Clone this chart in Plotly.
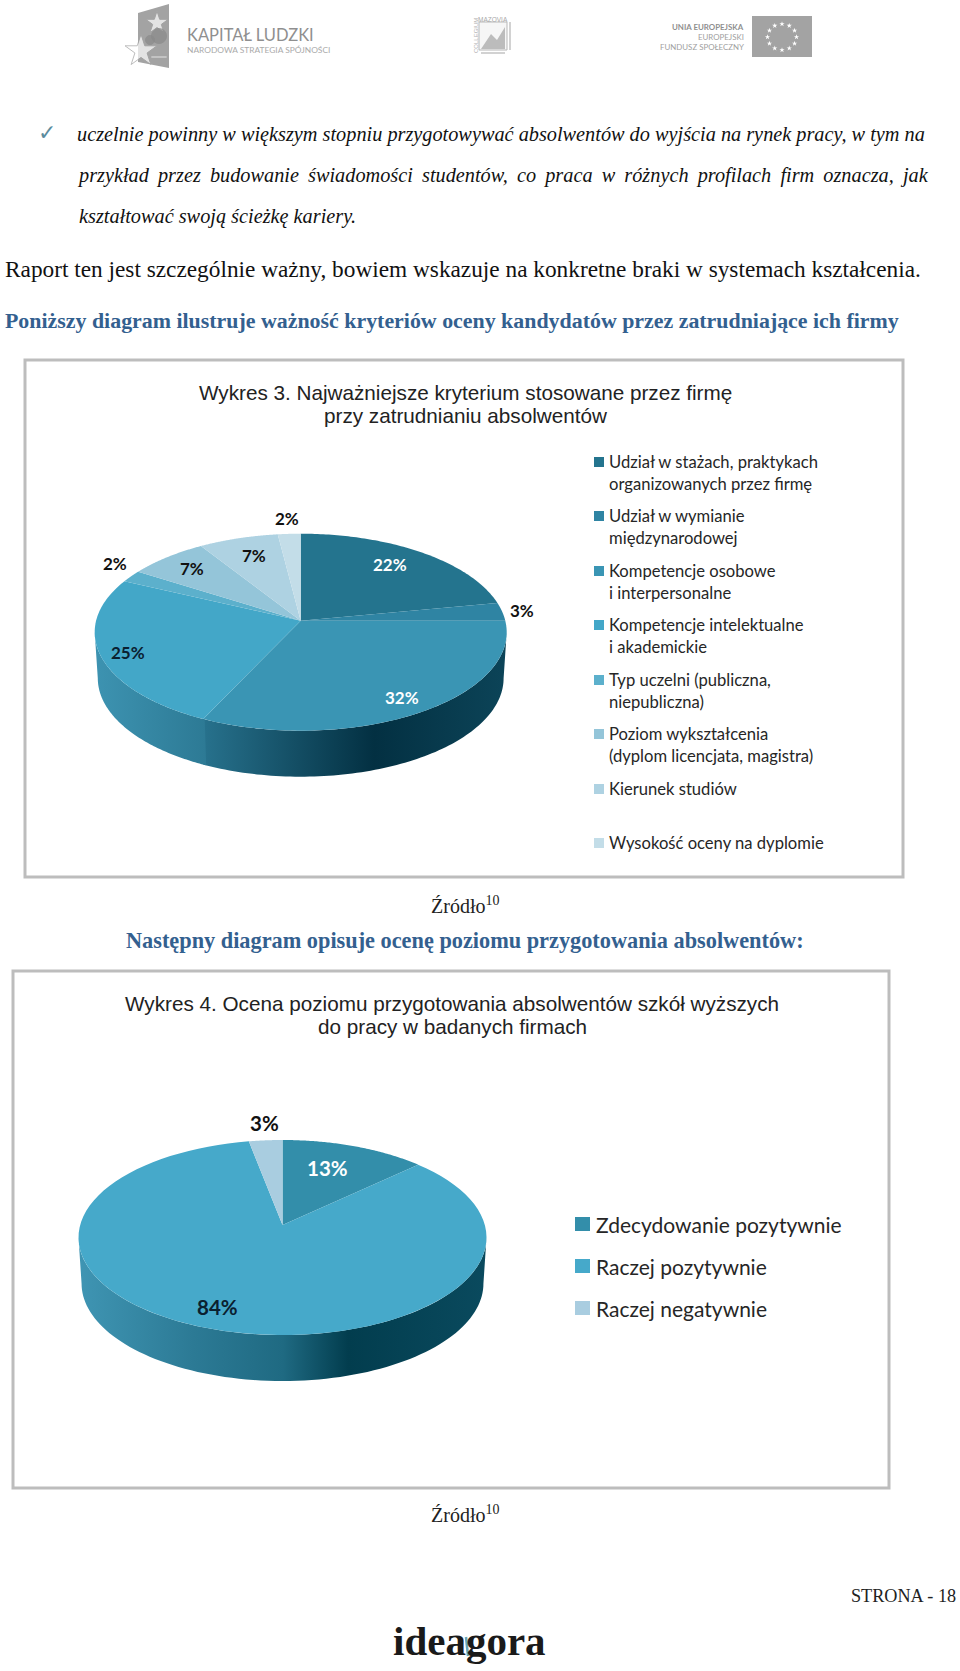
import math
import plotly.graph_objects as go

# ---- data ----
title_1 = ["Wykres 3. Najważniejsze kryterium stosowane przez firmę", "przy zatrudnianiu absolwentów"]
categories_1 = ["Udział w stażach, praktykach<br>organizowanych przez firmę",
                "Udział w wymianie<br>międzynarodowej",
                "Kompetencje osobowe<br>i interpersonalne",
                "Kompetencje intelektualne<br>i akademickie",
                "Typ uczelni (publiczna,<br>niepubliczna)",
                "Poziom wykształcenia<br>(dyplom licencjata, magistra)",
                "Kierunek studiów",
                "Wysokość oceny na dyplomie"]
values_1 = [22, 3, 32, 25, 2, 7, 7, 2]
colors_1 = ["#24748e", "#2f84a3", "#3a95b4", "#43a7c8", "#5cb0cc", "#94c5d9", "#aed2e2", "#c3dde8"]

title_2 = ["Wykres 4. Ocena poziomu przygotowania absolwentów szkół wyższych", "do pracy w badanych firmach"]
categories_2 = ["Zdecydowanie pozytywnie", "Raczej pozytywnie", "Raczej negatywnie"]
values_2 = [13, 84, 3]
colors_2 = ["#338eaa", "#46a9ca", "#a9cde0"]

SERIF = "Liberation Serif"
SANS = "Liberation Sans"
CAL = "Lato"
BLUE = "#33608f"
G = "#8f8f8f"

fig = go.Figure()
shapes, ann = [], []


def text(t, x, y, size, color="#111111", family=SERIF, anchor="left"):
    ann.append(dict(text=t, x=x, y=y, xref="x", yref="y", showarrow=False, xanchor=anchor, yanchor="middle",
                    borderpad=0, font=dict(size=size, color=color, family=family), align="left"))


def poly(xs, ys, color=None, gradient=None):
    kw = dict(fillgradient=gradient) if gradient else dict(fillcolor=color)
    fig.add_trace(go.Scatter(x=xs, y=ys, mode="none", fill="toself", hoverinfo="skip", showlegend=False, **kw))


def pie(values, colors, cx, cy, above, below, halfw, depth, side_styles):
    k = (below - above) / (below + above)
    A = above * (1 + k)
    B = halfw * math.sqrt(1 - k * k)
    tangent = math.degrees(math.acos(-k))

    def pt(deg, scale=1.0, dy=0.0):
        t = math.radians(deg)
        u, v = math.sin(t), math.cos(t)
        d = 1 + k * v
        return cx + scale * B * u / d, cy - A * v / d + dy

    total = sum(values)
    edges = [0]
    for val in values:
        edges.append(edges[-1] + val / total * 360)

    def arc(a, b, n=90):
        return [a + (b - a) * i / n for i in range(n + 1)]

    # side walls of the visible slices, clipped to the silhouette of the disc
    for i, grad in side_styles.items():
        a = max(edges[i] - 0.4, tangent)
        b = min(edges[i + 1] + 0.4, 360 - tangent)
        top = [pt(d) for d in arc(a, b)]
        bot = [pt(d, 0.985, depth) for d in arc(b, a)]
        pts = top + bot
        poly([p[0] for p in pts], [p[1] for p in pts],
             gradient=dict(type="horizontal", start=grad[0], stop=grad[1], colorscale=grad[2]))
    # top faces
    for i, c in enumerate(colors):
        pts = [(cx, cy)] + [pt(d) for d in arc(edges[i], edges[i + 1])] + [(cx, cy)]
        poly([p[0] for p in pts], [p[1] for p in pts], color=c)


# frames
for x0, y0, x1, y1 in [(25, 360, 903, 877), (13, 971, 889, 1488)]:
    shapes.append(dict(type="rect", x0=x0, y0=y0, x1=x1, y1=y1, xref="x", yref="y",
                       line=dict(color="#bdbdbd", width=3), fillcolor="white", layer="below"))

# chart 1
pie(values_1, colors_1, 300.7, 620.7, 87, 110, 206, 46, {
    2: (205, 507, [[0, "#27718c"], [0.56, "#033042"], [1, "#0c4458"]]),
    3: (95, 205, [[0, "#3d93b1"], [1, "#2d7a95"]]),
})
text(title_1[0], 465, 392, 20.7, "#222222", SANS, "center")
text(title_1[1], 465, 415, 20.7, "#222222", SANS, "center")
legend_y_1 = [473, 527, 582, 636, 691, 745, 789, 843]
for cat, col, ly in zip(categories_1, colors_1, legend_y_1):
    sy = ly - 11 if "<br>" in cat else ly
    shapes.append(dict(type="rect", x0=594, x1=604, y0=sy - 5, y1=sy + 5, xref="x", yref="y",
                       fillcolor=col, line=dict(width=0), layer="above"))
    text(cat, 607.5, ly, 16.6, "#262626", CAL)
labels_1 = [(390, 564, "white"), (522, 610, "#111"), (402, 697, "white"), (128, 652, "#0a2030"),
            (115, 563, "#111"), (192, 568, "#111"), (254, 555, "#111"), (287, 518, "#111")]
for val, (lx, ly, lc) in zip(values_1, labels_1):
    text(f"<b>{val}%</b>", lx, ly, 17, lc, CAL, "center")

# chart 2
pie(values_2, colors_2, 282.5, 1225, 85, 110, 204, 46, {
    1: (79, 487, [[0, "#3f95b3"], [0.28, "#2c7a95"], [0.5, "#1f6a82"], [0.66, "#023d4e"], [1, "#0a4a5e"]]),
})
text(title_2[0], 452, 1003.5, 20.7, "#222222", SANS, "center")
text(title_2[1], 452, 1026.5, 20.7, "#222222", SANS, "center")
legend_y_2 = [1224, 1266, 1308]
for cat, col, ly in zip(categories_2, colors_2, legend_y_2):
    shapes.append(dict(type="rect", x0=575, x1=590, y0=ly - 7, y1=ly + 7, xref="x", yref="y",
                       fillcolor=col, line=dict(width=0), layer="above"))
    text(cat, 595, ly, 21, "#262626", CAL)
labels_2 = [(327, 1168, "white"), (217, 1307, "#0a2030"), (264, 1123, "#111")]
for val, (lx, ly, lc) in zip(values_2, labels_2):
    text(f"<b>{val}%</b>", lx, ly, 20.5, lc, CAL, "center")

# page text
THIN = "\u2009"
text("✓", 47, 132, 22, "#5b8c9e", "DejaVu Sans", "center")
text("<i>uczelnie powinny w większym stopniu przygotowywać absolwentów do wyjścia na rynek pracy, w tym na</i>", 76, 134, 20.3)
text("<i>" + ("przykład przez budowanie świadomości studentów, co praca w różnych profilach firm oznacza, jak").replace(" ", " " + THIN) + "</i>", 76, 175, 20.3)
text("<i>kształtować swoją ścieżkę kariery.</i>", 78, 216, 20.3)
text("Raport ten jest szczególnie ważny, bowiem wskazuje na konkretne braki w systemach kształcenia.", 4, 269, 23.3)
text("<b>Poniższy diagram ilustruje ważność kryteriów oceny kandydatów przez zatrudniające ich firmy</b>", 4, 320, 21.9, BLUE)
text("Źródło<sup>10</sup>", 465, 905, 20, "#222222", SERIF, "center")
text("<b>Następny diagram opisuje ocenę poziomu przygotowania absolwentów:</b>", 465, 940, 22.3, BLUE, SERIF, "center")
text("Źródło<sup>10</sup>", 465, 1514, 20, "#222222", SERIF, "center")
text("STRONA - 18", 957, 1596, 18.2, "#222222", SERIF, "right")
text("<b>ideagora</b>", 469, 1641, 41, "#1a1a1a", SERIF, "center")
shapes.append(dict(type="line", x0=466, x1=468, y0=1637, y1=1656, xref="x", yref="y",
                   line=dict(color="#6aa5b8", width=2.5), layer="above"))

# header logos
poly([138, 169, 169, 138, 138], [13, 4, 68, 62, 13], color="#a3a3a3")
fig.add_trace(go.Scatter(x=[141, 157, 159, 150, 159], y=[51, 23, 36, 40, 57], mode="markers", hoverinfo="skip",
                         showlegend=False,
                         marker=dict(symbol=["star", "star", "circle", "circle", "line-ew"],
                                     size=[24, 17, 15, 9, 11], color=["white", "white", "#8a8a8a", "#8a8a8a", "white"],
                                     line=dict(color=["#a3a3a3", "#a3a3a3", "#8a8a8a", "#8a8a8a", "white"], width=1))))
text("KAPITAŁ LUDZKI", 186, 35, 16.5, G, CAL)
text("NARODOWA STRATEGIA SPÓJNOŚCI", 186, 49.5, 8.4, "#aaaaaa", CAL)

shapes.append(dict(type="rect", x0=479, x1=507, y0=22, y1=50, xref="x", yref="y",
                   line=dict(color="#b8b8b8", width=1), fillcolor="#f6f6f6", layer="below"))
poly([481, 491, 497, 505, 505, 481, 481], [49, 34, 40, 27, 49, 49, 49], color="#bcbcbc")
text("MAZOVIA", 493, 19, 6.5, "#a8a8a8", SANS, "center")
ann.append(dict(text="COLLEGIUM", x=476, y=36, xref="x", yref="y", showarrow=False, textangle=-90,
                font=dict(size=6, color="#b0b0b0", family=SANS)))
shapes.append(dict(type="line", x0=481, x1=505, y0=53, y1=53, xref="x", yref="y",
                   line=dict(color="#d2d2d2", width=2), layer="below"))
shapes.append(dict(type="line", x0=510, x1=510, y0=22, y1=50, xref="x", yref="y",
                   line=dict(color="#d2d2d2", width=2), layer="below"))

shapes.append(dict(type="rect", x0=752, x1=812, y0=16, y1=57, xref="x", yref="y",
                   line=dict(width=0), fillcolor="#a3a3a3", layer="below"))
eu_x, eu_y = [], []
for i in range(12):
    t = math.radians(i * 30)
    eu_x.append(782 + 14.5 * math.sin(t))
    eu_y.append(37 - 13 * math.cos(t))
fig.add_trace(go.Scatter(x=eu_x, y=eu_y, mode="markers", hoverinfo="skip", showlegend=False,
                         marker=dict(symbol="star", size=4, color="white", line=dict(width=0))))
text("<b>UNIA EUROPEJSKA</b>", 745, 27, 7.9, G, CAL, "right")
text("EUROPEJSKI", 745, 37, 7.9, "#a0a0a0", CAL, "right")
text("FUNDUSZ SPOŁECZNY", 745, 46.5, 7.9, "#a0a0a0", CAL, "right")

fig.update_layout(width=960, height=1671, margin=dict(l=0, r=0, t=0, b=0), autosize=False,
                  paper_bgcolor="white", plot_bgcolor="white", shapes=shapes, annotations=ann,
                  xaxis=dict(range=[0, 960], visible=False, fixedrange=True),
                  yaxis=dict(range=[1671, 0], visible=False, fixedrange=True))
fig.write_html("out.html", config=dict(displayModeBar=False),
               post_script="document.body.style.margin='0';document.body.style.overflow='hidden';")
